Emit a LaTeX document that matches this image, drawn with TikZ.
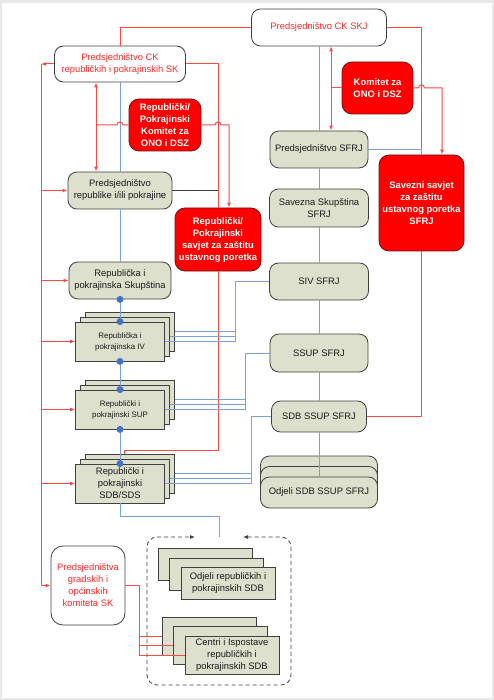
\documentclass[tikz,border=0pt]{standalone}
\usepackage{fontspec}
\setmainfont{Liberation Sans}
\usetikzlibrary{arrows.meta,calc,shadows}

\definecolor{boxfill}{RGB}{221,224,204}
\definecolor{boxline}{RGB}{64,64,64}
\definecolor{redln}{RGB}{255,72,72}
\definecolor{redtxt}{RGB}{255,40,40}
\definecolor{redfill}{RGB}{255,0,0}
\definecolor{redborder}{RGB}{110,20,20}
\definecolor{blueln}{RGB}{125,160,215}
\definecolor{dotblue}{RGB}{70,115,195}
\definecolor{framegrey}{RGB}{232,232,232}

\tikzset{
  boxtext/.style={align=center,inner sep=1pt,line width=0.8pt,font=\fontsize{9.4}{12}\selectfont},
  smalltext/.style={font=\fontsize{7.9}{11}\selectfont},
  whitebox/.style={boxtext,draw=boxline,fill=white,text=redtxt,rounded corners=9pt},
  redbox/.style={boxtext,draw=redborder,fill=redfill,text=white,rounded corners=10pt,font=\bfseries\fontsize{9.4}{12}\selectfont},
  greybox/.style={boxtext,draw=boxline,fill=boxfill,text=black!90,rounded corners=9pt},
  stackbox/.style={boxtext,draw=boxline,fill=boxfill,text=black!90,minimum width=89pt,minimum height=39pt,
    general shadow={shadow scale=1,shadow xshift=10pt,shadow yshift=10pt,draw=boxline,fill=boxfill},
    general shadow={shadow scale=1,shadow xshift=5pt,shadow yshift=5pt,draw=boxline,fill=boxfill}},
  roundstack/.style={greybox,
    general shadow={shadow scale=1,shadow xshift=0pt,shadow yshift=21pt,draw=boxline,fill=boxfill},
    general shadow={shadow scale=1,shadow xshift=0pt,shadow yshift=10.5pt,draw=boxline,fill=boxfill}},
  flatstack/.style={boxtext,draw=boxline,fill=boxfill,text=black!90,
    general shadow={shadow scale=1,shadow xshift=-23pt,shadow yshift=19pt,draw=boxline,fill=boxfill},
    general shadow={shadow scale=1,shadow xshift=-11.5pt,shadow yshift=9.5pt,draw=boxline,fill=boxfill}},
  redline/.style={draw=redln,line width=1pt},
  blueline/.style={draw=blueln,line width=1pt},
  greyline/.style={draw=boxline,line width=0.8pt},
  dashline/.style={draw=black!75,line width=0.8pt,dash pattern=on 4pt off 3pt,rounded corners=10pt}
}

\begin{document}
\begin{tikzpicture}[x=1pt,y=-1pt,>={Latex[length=5pt,width=4pt]}]
\fill[framegrey] (0,0) rectangle (494,700);
\fill[white] (2,3) rectangle (492,698);
\useasboundingbox (0,0) rectangle (494,700);

\node (skj) at (319,27.5) [whitebox,minimum width=135pt,minimum height=37pt] {Predsjedništvo CK SKJ};
\node (cksk) at (120,64) [whitebox,minimum width=131pt,minimum height=36pt] {Predsjedništvo CK\\republičkih i pokrajinskih SK};
\node (rkom) at (165,125) [redbox,minimum width=72pt,minimum height=52pt] {Republički/\\Pokrajinski\\Komitet za\\ONO i DSZ};
\node (kom) at (377.5,88) [redbox,minimum width=71pt,minimum height=52pt] {Komitet za\\ONO i DSZ};
\node (psfrj) at (319,149.5) [greybox,minimum width=98pt,minimum height=37pt] {Predsjedništvo SFRJ};
\node (ssav) at (421.5,203) [redbox,minimum width=85pt,minimum height=96pt] {Savezni savjet\\za zaštitu\\ustavnog poretka\\SFRJ};
\node (prep) at (120,190.5) [greybox,minimum width=104pt,minimum height=37pt] {Predsjedništvo\\republike i/ili pokrajine};
\node (sskup) at (319,208) [greybox,minimum width=99pt,minimum height=38pt] {Savezna Skupština\\SFRJ};
\node (rsav) at (218,239.5) [redbox,minimum width=86pt,minimum height=63pt] {Republički/\\Pokrajinski\\savjet za zaštitu\\ustavnog poretka};
\node (siv) at (319,281.5) [greybox,minimum width=99pt,minimum height=37pt] {SIV SFRJ};
\node (rskup) at (120,280.5) [greybox,minimum width=102pt,minimum height=37pt] {Republička i\\pokrajinska Skupština};
\node (iv) at (120,341.5) [stackbox,smalltext] {Republička i\\pokrajinska IV};
\node (ssup) at (319,353) [greybox,minimum width=98pt,minimum height=38pt] {SSUP SFRJ};
\node (sup) at (120,409.5) [stackbox,smalltext] {Republički i\\pokrajinski SUP};
\node (sdbssup) at (319,416.5) [greybox,minimum width=95pt,minimum height=31pt] {SDB SSUP SFRJ};
\node (sdb) at (120,483.5) [stackbox] {Republički i\\pokrajinski\\SDB/SDS};
\node (odssup) at (319,492.5) [roundstack,minimum width=117pt,minimum height=31pt] {Odjeli SDB SSUP SFRJ};
\node (pgk) at (88,585.5) [whitebox,minimum width=74pt,minimum height=79pt,rounded corners=12pt] {Predsjedništva\\gradskih i\\općinskih\\komiteta SK};
\node (odrep) at (228,583.5) [flatstack,minimum width=94pt,minimum height=32pt] {Odjeli republičkih i\\pokrajinskih SDB};
\node (centri) at (232,655) [flatstack,minimum width=94pt,minimum height=38pt] {Centri i Ispostave\\republičkih i\\pokrajinskih SDB};

\draw[redline] (skj.west) -| (cksk.north);
\draw[redline] (skj.east) -| (ssav.north);
\draw[blueline] (psfrj.east) -| (ssav.north);
\coordinate (kx) at (331,88);
\draw[redline] (kom.west) -- (kx);
\draw[redline,<->] (skj.south -| kx) -- (psfrj.north -| kx);
\draw[redline,->] (kom.east) -- ($(ssav.north |- kom.east)+(-3,0)$) arc[start angle=180,end angle=360,radius=3] -- ++(17.5,0) coordinate (kr) -- (kr |- ssav.north);
\draw[blueline] (skj.south) -- (psfrj.north) (psfrj.south) -- (sskup.north) (sskup.south) -- (siv.north)
  (siv.south) -- (ssup.north) (ssup.south) -- (sdbssup.north) (sdbssup.south) -- (odssup.north);
\draw[redline] (sdbssup.east) -| (ssav.south);

\draw[redline,->] (cksk.west) -- ++(-13,0) coordinate (lx);
\draw[redline,->] (lx) |- (pgk.west);
\foreach \n in {prep,rskup,iv,sup,sdb}
  \draw[redline,->] (lx |- \n.west) -- (\n.west);
\coordinate (lk) at (96,125);
\draw[redline,<->] (cksk.south -| lk) -- (prep.north -| lk);
\draw[blueline] (cksk.south) -- (prep.north) (prep.south) -- (rskup.north);
\draw[redline] (rkom.west) -- ($(cksk.south |- rkom.west)+(3,0)$) arc[start angle=0,end angle=-180,radius=3] -- (lk);
\draw[redline] (cksk.east) -| (rsav.north);
\draw[redline,->] (rkom.east) -- ($(rsav.north |- rkom.east)+(-3,0)$) arc[start angle=180,end angle=360,radius=3] -- ++(8,0) coordinate (rk) -- (rk |- rsav.north);
\draw[greyline] (prep.east) -- (prep.east -| rsav.north);
\draw[redline] (rsav.south) -- ++(0,179) -| ($(sdb.north)+(4,-10)$);

\foreach \a/\b in {rskup/iv,iv/sup,sup/sdb} {
  \draw[blueline] (\a.south) -- (\b.north);
  \fill[dotblue] (\a.south) circle[radius=3.5] (\b.north) circle[radius=3.5];
}
\foreach \s/\t/\d in {iv/siv/71,sup/ssup/80.5,sdb/sdbssup/87} {
  \draw[blueline] (\t.west) -| ($(\s.east)+(\d,0)$) -- (\s.east);
  \draw[blueline] ($(\s.east)+(\d,-5)$) -- ($(\s.east)+(5,-5)$);
  \draw[blueline] ($(\s.east)+(\d,-10)$) -- ($(\s.east)+(10,-10)$);
}

\coordinate (gap) at (219,537);
\draw[blueline] (sdb.south) -- ++(0,13) -| (gap);
\draw[dashline,<->] ($(gap)+(24,0)$) -- ++(48,0) -- ++(0,148) -- ++(-144,0) -- ++(0,-148) -- ++(48,0);

\draw[redline] (pgk.east) -| ($(centri.west)+(-45,0)$) -- (centri.west);
\draw[redline] ($(centri.west)+(-45,-9.5)$) -- ($(centri.west)+(-11.5,-9.5)$)
  ($(centri.west)+(-45,-19)$) -- ($(centri.west)+(-23,-19)$);
\end{tikzpicture}
\end{document}
